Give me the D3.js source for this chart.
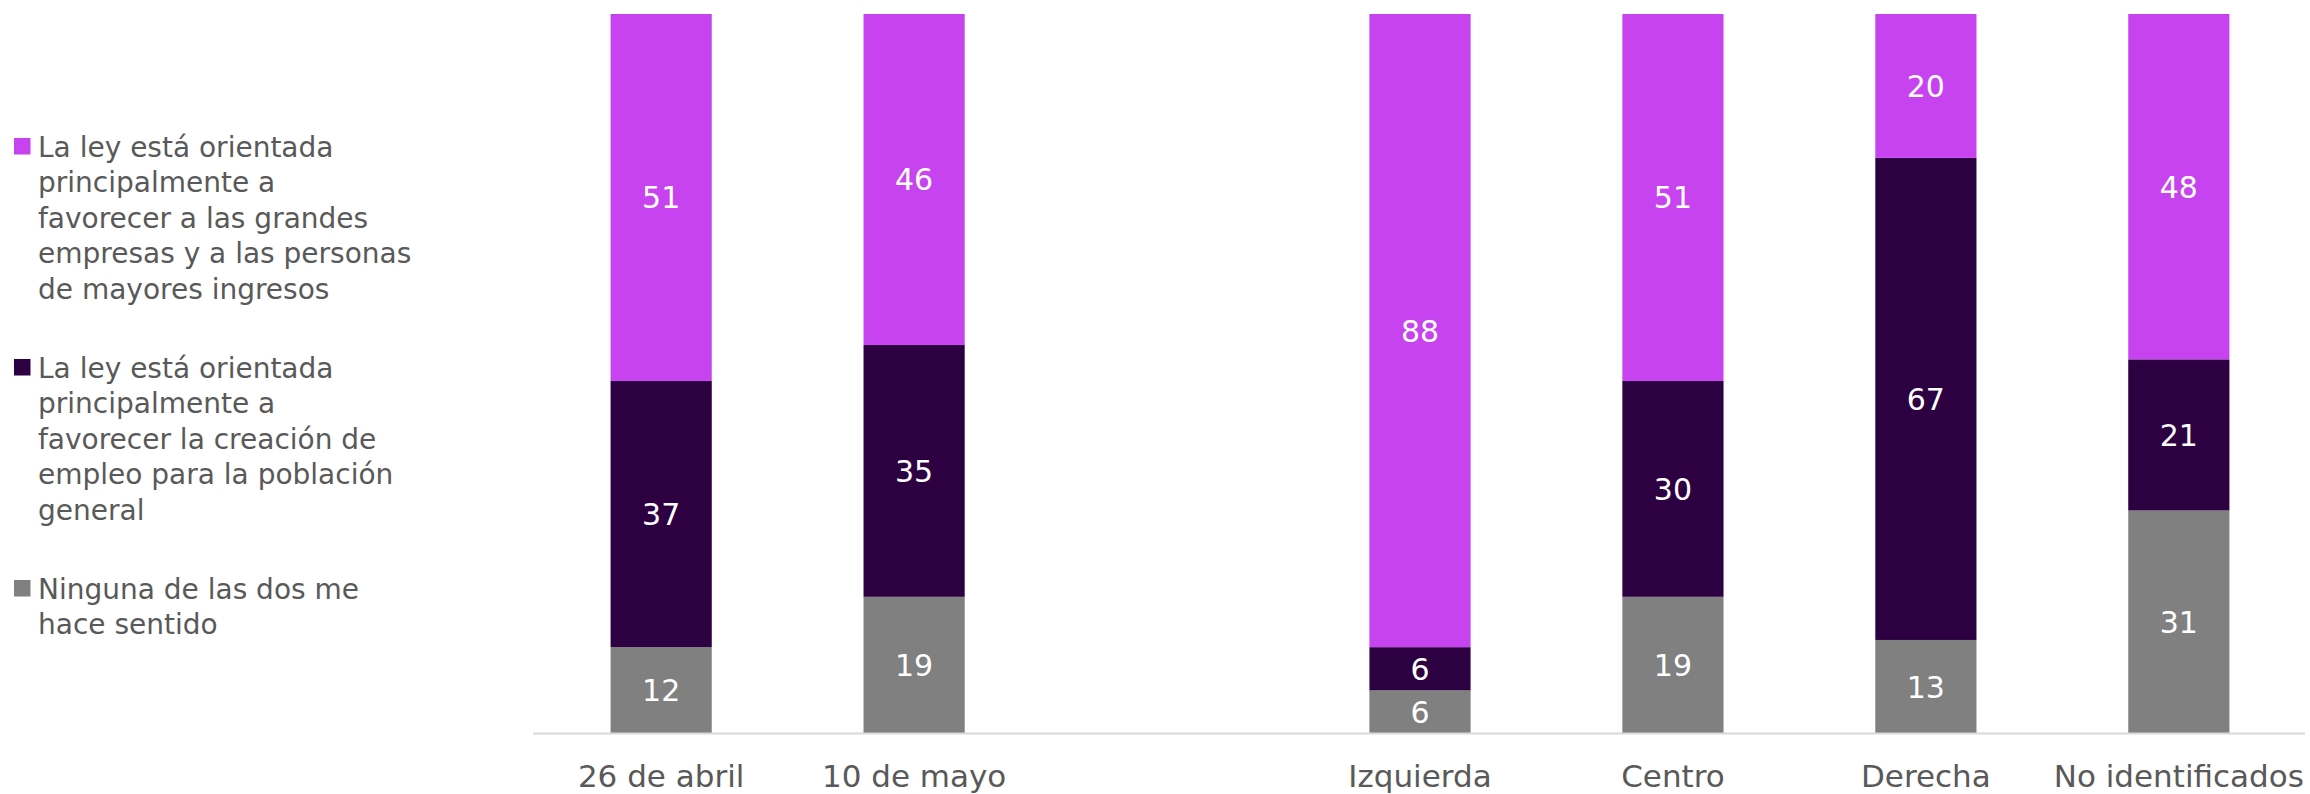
<!DOCTYPE html>
<html>
<head>
<meta charset="utf-8">
<script src="https://cdn.jsdelivr.net/npm/d3@7"></script>
<style>
  body { margin: 0; background: #fff; }
  svg { display: block; font-family: "DejaVu Sans", sans-serif; }
</style>
</head>
<body>
<svg id="chart" width="2310" height="794"></svg>
<script>
// categories (the empty slot is the gap between the two groups)
const categories = ["26 de abril", "10 de mayo", "", "Izquierda", "Centro", "Derecha", "No identificados"];
const ninguna = [12, 19, null, 6, 19, 13, 31];
const empleo = [37, 35, null, 6, 30, 67, 21];
const empresas = [51, 46, null, 88, 51, 20, 48];

const seriesNames = [
    ["La ley está orientada", "principalmente a", "favorecer a las grandes", "empresas y a las personas", "de mayores ingresos"],
    ["La ley está orientada", "principalmente a", "favorecer la creación de", "empleo para la población", "general"],
    ["Ninguna de las dos me", "hace sentido"]
];
const colors = ["#c843f0", "#2d0042", "#808080"];

const svg = d3.select("#chart");

const x = d3.scaleBand()
    .domain(d3.range(categories.length))
    .range([534.7, 2305.3])
    .paddingInner(0.6)
    .paddingOuter(0.3);

const y = d3.scaleLinear()
    .domain([0, 100])
    .range([733.5, 14]);

// stack bottom-up: ninguna, empleo, empresas
const rows = categories.map((c, i) => ({ i: i, ninguna: ninguna[i], empleo: empleo[i], empresas: empresas[i] }))
    .filter(d => d.ninguna != null);
const keys = ["ninguna", "empleo", "empresas"];
const keyColor = { ninguna: colors[2], empleo: colors[1], empresas: colors[0] };
const stacked = d3.stack().keys(keys)(rows);

const layers = svg.append("g").selectAll("g")
    .data(stacked)
    .enter().append("g")
    .attr("fill", d => keyColor[d.key]);

layers.selectAll("rect")
    .data(d => d)
    .enter().append("rect")
    .attr("x", d => x(d.data.i))
    .attr("width", x.bandwidth())
    .attr("y", d => y(d[1]))
    .attr("height", d => y(d[0]) - y(d[1]));

// value labels
layers.selectAll("text")
    .data(d => d)
    .enter().append("text")
    .attr("x", d => x(d.data.i) + x.bandwidth() / 2)
    .attr("y", d => (y(d[0]) + y(d[1])) / 2 + 11)
    .attr("text-anchor", "middle")
    .attr("fill", "#fff")
    .style("font-size", "30px")
    .text(d => d[1] - d[0]);

// x axis
const axis = svg.append("g")
    .attr("transform", `translate(0,${y(0)})`)
    .call(d3.axisBottom(x).tickSize(0).tickPadding(31).tickFormat(i => categories[i]));
axis.select(".domain").attr("stroke", "#d9d9d9").attr("stroke-width", 2).attr("d", "M533,0H2305");
axis.selectAll("text")
    .attr("fill", "#595959")
    .style("font-size", "31px")
    .style("font-family", "DejaVu Sans, sans-serif");

// legend
const legendTops = [146, 367, 588];
const lineH = 35.6;
seriesNames.forEach((lines, k) => {
    const g = svg.append("g");
    g.append("rect")
        .attr("x", 14)
        .attr("y", legendTops[k] - 8)
        .attr("width", 16.5)
        .attr("height", 16.5)
        .attr("fill", colors[k]);
    g.selectAll("text")
        .data(lines)
        .enter().append("text")
        .attr("x", 38)
        .attr("y", (d, j) => legendTops[k] + j * lineH + 10.5)
        .attr("fill", "#595959")
        .style("font-size", "28px")
        .text(d => d);
});
</script>
</body>
</html>
